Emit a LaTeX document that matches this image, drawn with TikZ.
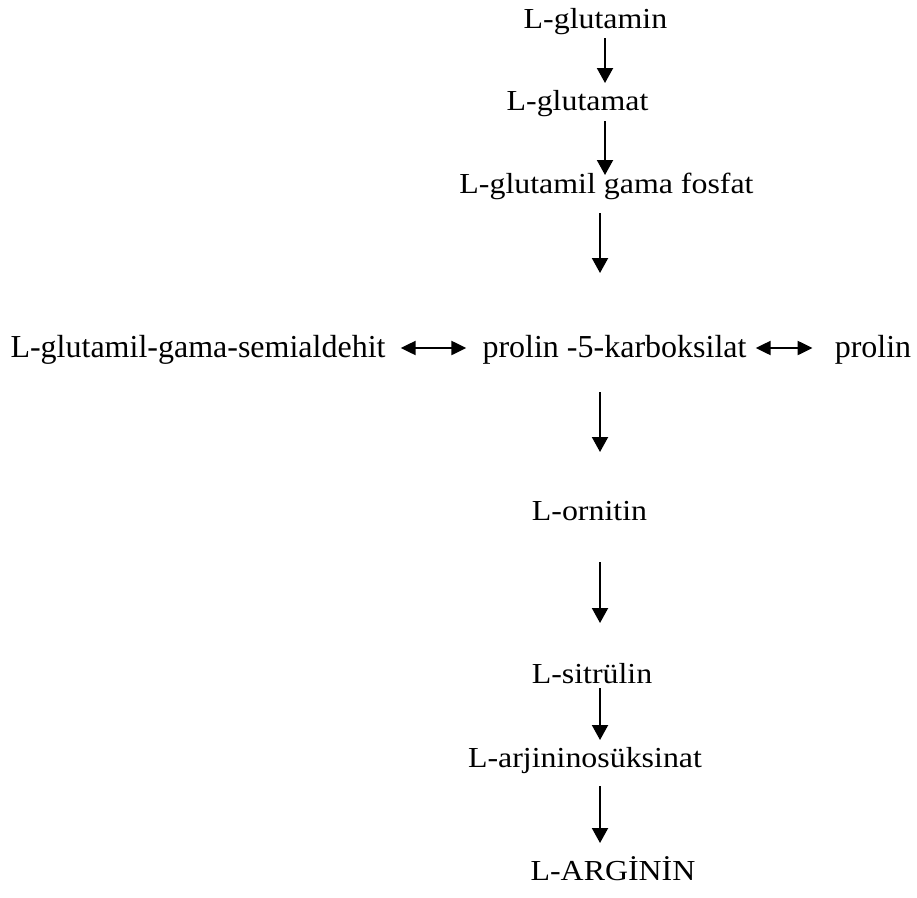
\documentclass[tikz,border=0pt]{standalone}
\usepackage{fontspec}
\usepackage{graphicx}
\setmainfont{Liberation Serif}
\newcommand{\wt}[1]{\scalebox{1.1}[1]{#1}}
\usetikzlibrary{arrows.meta,calc}
\begin{document}
\begin{tikzpicture}[x=1pt,y=-1pt,
  wide/.style={anchor=base,inner sep=0pt,font=\fontsize{29}{34}\selectfont},
  mid/.style={anchor=base,inner sep=0pt,font=\fontsize{32}{38}\selectfont},
  arr/.style={line width=2pt,-{Triangle[width=16pt,length=15pt]}},
  darr/.style={line width=2.2pt,{Triangle[width=14pt,length=15pt]}-{Triangle[width=14pt,length=15pt]}}]
\useasboundingbox[fill=white] (0,0) rectangle (917,897);

\node[wide] (n1) at (595.5,28) {\wt{L-glutamin}};
\node[wide] (n2) at (577.5,110) {\wt{L-glutamat}};
\node[wide] (n3) at (606.5,193) {\wt{L-glutamil gama fosfat}};

\node[mid] (m1) at (198,357) {L-glutamil-gama-semialdehit};
\node[mid] (m2) at (614.5,357) {prolin -5-karboksilat};
\node[mid] (m3) at (873,357) {prolin};

\node[wide] (n4) at (589.5,520) {\wt{L-ornitin}};
\node[wide] (n5) at (592,683) {\wt{L-sitrülin}};
\node[wide] (n6) at (585,767) {\wt{L-arjininosüksinat}};
\node[wide] (n7) at (613,880) {\wt{L-ARGİNİN}};

\draw[arr] ($(n1.base)+(9.5,10)$) -- ($(n2.base)+(27.5,-27)$);
\draw[arr] ($(n2.base)+(27.5,11)$) -- ($(n3.base)+(-1.5,-18)$);
\draw[arr] ($(n3.base)+(-6.5,20)$) -- ($(m2.base)+(-14.5,-84)$);
\draw[arr] ($(m2.base)+(-14.5,35)$) -- ($(n4.base)+(10.5,-68)$);
\draw[arr] ($(n4.base)+(10.5,42)$) -- ($(n5.base)+(8,-60)$);
\draw[arr] ($(n5.base)+(8,5)$) -- ($(n6.base)+(15,-27)$);
\draw[arr] ($(n6.base)+(15,19)$) -- ($(n7.base)+(-13,-37)$);

\draw[darr] ($(m1.base east)+(15,-9)$) -- ($(m2.base west)+(-16,-9)$);
\draw[darr] ($(m2.base east)+(9,-9)$) -- ($(m3.base west)+(-22,-9)$);
\end{tikzpicture}
\end{document}
